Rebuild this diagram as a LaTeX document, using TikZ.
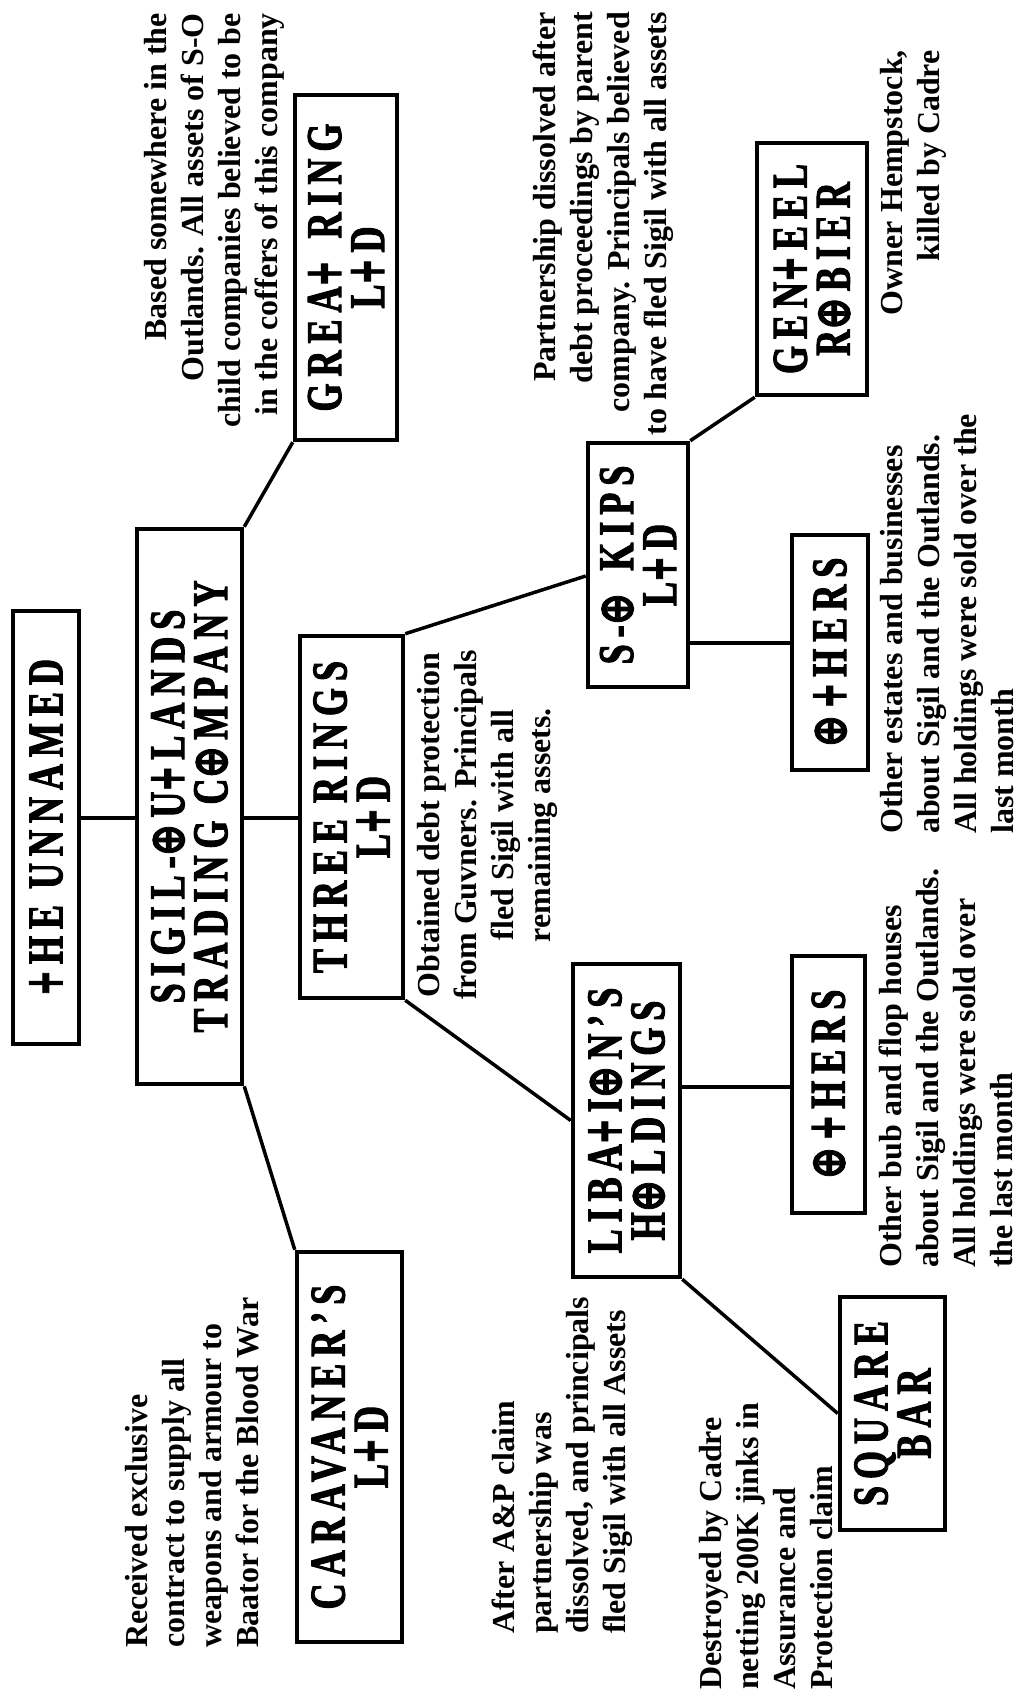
\documentclass[tikz,border=0pt]{standalone}
\usepackage{fontspec}
\usepackage{graphicx}
\setmainfont{Liberation Serif}
\newfontfamily\notefam{Liberation Serif}
\newfontfamily\titlefam{Liberation Serif}[FakeStretch=0.72,LetterSpace=14,FakeBold=2]
\newfontfamily\symfam{DejaVu Sans}[FakeBold=2]
\newcommand\notefont{\notefam\bfseries\fontsize{32}{37}\selectfont}
\newcommand\titlefont{\titlefam\bfseries\fontsize{50}{43}\selectfont}
\newcommand\myT{{\symfam\bfseries\scalebox{0.62}[1.05]{+}}\hspace{0.12em}}
\newcommand\myO{{\symfam\bfseries\scalebox{0.78}[0.98]{⊕}}\hspace{0.12em}}
\begin{document}
\begin{tikzpicture}[x=1pt,y=-1pt,
  box/.style={draw, line width=4.5pt, rotate=90, inner sep=0pt, align=center, font=\titlefont},
  note/.style={rotate=90, inner sep=0pt, font=\notefont},
  link/.style={line width=3.5pt}]
\fill[white] (0,0) rectangle (1025,1693);
\useasboundingbox (0,0) rectangle (1025,1693);

% boxes
\node[box, minimum width=433pt, minimum height=66pt] (unnamed) at (46,827.5) {\myT HE UNNAMED};
\node[box, minimum width=555pt, minimum height=105pt] (sigil) at (189.5,806.5) {SIGIL-\myO U\myT LANDS\\TRADING C\myO MPANY};
\node[box, minimum width=345pt, minimum height=102pt] (great) at (346,267.5) {GREA\myT\ RING\\L\myT D};
\node[box, minimum width=390pt, minimum height=105pt] (carav) at (349.5,1447) {CARAVANER’S\\L\myT D};
\node[box, minimum width=362pt, minimum height=103pt] (three) at (351.5,817) {THREE RINGS\\L\myT D};
\node[box, minimum width=244pt, minimum height=100pt] (sokips) at (638,565) {S-\myO\ KIPS\\L\myT D};
\node[box, minimum width=235pt, minimum height=76pt] (othr) at (830,652.5) {\myO\myT HERS};
\node[box, minimum width=252pt, minimum height=110pt] (gent) at (812,269) {GEN\myT EEL\\R\myO BIER};
\node[box, minimum width=313pt, minimum height=107pt] (lib) at (626.5,1120.5) {LIBA\myT I\myO N’S\\H\myO LDINGS};
\node[box, minimum width=257pt, minimum height=73pt] (othl) at (828.5,1084.5) {\myO\myT HERS};
\node[box, minimum width=233pt, minimum height=105pt] (sq) at (892.5,1413.5) {SQUARE\\BAR};

% connectors
\draw[link] (unnamed.south |- 0,818) -- (sigil.north |- 0,818);
\draw[link] (sigil.south |- 0,818) -- (three.north |- 0,818);
\draw[link] (sigil.south east) -- (great.north west);
\draw[link] (sigil.south west) -- (carav.north east);
\draw[link] (three.south east) -- (sokips.north |- 0,576);
\draw[link] (three.south west) -- (lib.north);
\draw[link] (lib.south |- 0,1087) -- (othl.north |- 0,1087);
\draw[link] (lib.south west) -- (sq.north);
\draw[link] (sokips.south |- 0,643) -- (othr.north |- 0,643);
\draw[link] (sokips.south east) -- (gent.north west);

% notes
\node[note, anchor=north east, align=right] (greatnote) at (144,13) {Based somewhere in the\\Outlands. All assets of S-O\\child companies believed to be\\in the coffers of this company};
\node[note, anchor=north west, align=left] (caravnote) at (125,1648) {Received exclusive\\contract to supply all\\weapons and armour to\\Baator for the Blood War};
\node[note, anchor=north, align=center] (threenote) at (417,825) {Obtained debt protection\\from Guvners. Principals\\fled Sigil with all\\remaining assets.};
\node[note, anchor=north west, align=left] (libnote) at (492,1634) {After A\&P claim\\partnership was\\dissolved, and principals\\fled Sigil with all Assets};
\node[note, anchor=north west, align=left] (sqnote) at (699,1690) {Destroyed by Cadre\\netting 200K jinks in\\Assurance and\\Protection claim};
\node[note, anchor=north west, align=left] (othlnote) at (879,1268) {Other bub and flop houses\\about Sigil and the Outlands.\\All holdings were sold over\\the last month};
\node[note, anchor=north west, align=left] (othrnote) at (880,834) {Other estates and businesses\\about Sigil and the Outlands.\\All holdings were sold over the\\last month};
\node[note, anchor=north east, align=right] (sonote) at (533,12) {Partnership dissolved after\\debt proceedings by parent\\company. Principals believed\\to have fled Sigil with all assets};
\node[note, anchor=north east, align=right] (gentnote) at (880,50) {Owner Hempstock,\\killed by Cadre};
\end{tikzpicture}
\end{document}
